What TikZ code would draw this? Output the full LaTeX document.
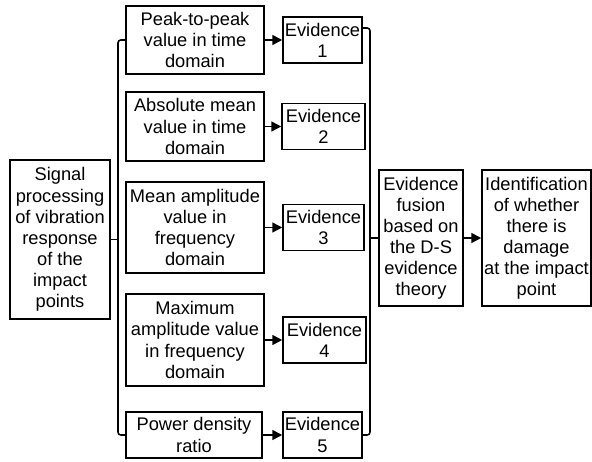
\documentclass[tikz,border=0pt]{standalone}
\usepackage{fontspec}
\setmainfont{Liberation Sans}
\usepackage{tikz}
\usetikzlibrary{arrows.meta,positioning,calc}

\begin{document}
\begin{tikzpicture}[
    box/.style={rectangle, draw, line width=1.1pt, align=center, inner sep=1pt, font=\fontsize{13}{15}\selectfont},
    line/.style={line width=1.1pt},
    arrow/.style={-{Triangle[length=7pt,width=7pt]}, line width=1.1pt}
]
\useasboundingbox (0,0) rectangle (14.8,-11.55);

% Input
\node[box, minimum width=2.5cm, minimum height=3.975cm] (sig) at (1.5,-5.9875) {Signal\\processing\\of vibration\\response\\of the\\impact\\points};

% Features
\node[box, minimum width=3.45cm, minimum height=1.7cm] (f1) at (4.875,-1.0) {Peak-to-peak\\value in time\\domain};
\node[box, minimum width=3.45cm, minimum height=1.725cm] (f2) at (4.875,-3.1625) {Absolute mean\\value in time\\domain};
\node[box, minimum width=3.45cm, minimum height=2.275cm] (f3) at (4.875,-5.6875) {Mean amplitude\\value in\\frequency\\domain};
\node[box, minimum width=3.45cm, minimum height=2.3cm] (f4) at (4.875,-8.5) {Maximum\\amplitude value\\in frequency\\domain};
\node[box, minimum width=3.4cm, minimum height=1.15cm] (f5) at (4.85,-10.875) {Power density\\ratio};

% Evidences
\node[box, minimum width=1.975cm, minimum height=1.15cm] (e1) at (8.0625,-1.0) {Evidence\\1};
\node[box, minimum width=2.075cm, minimum height=1.15cm] (e2) at (8.0875,-3.1625) {Evidence\\2};
\node[box, minimum width=2.025cm, minimum height=1.15cm] (e3) at (8.0875,-5.6875) {Evidence\\3};
\node[box, minimum width=2.075cm, minimum height=1.15cm] (e4) at (8.1125,-8.5) {Evidence\\4};
\node[box, minimum width=1.975cm, minimum height=1.15cm] (e5) at (8.0625,-10.875) {Evidence\\5};

% Fusion and result
\node[box, minimum width=2.1cm, minimum height=3.4cm] (fus) at (10.525,-5.95) {Evidence\\fusion\\based on\\the D-S\\evidence\\theory};
\node[box, minimum width=2.725cm, minimum height=3.4cm] (ide) at (13.4125,-5.95) {Identification\\of whether\\there is\\damage\\at the impact\\point};

% Brackets
\coordinate (lbr) at (2.95,0);
\coordinate (rbr) at (9.25,0);
\draw[line, rounded corners=2pt] (f1.west) -| (lbr |- f5.west) -- (f5.west);
\draw[line] (sig.east) -- (sig.east -| lbr);
\draw[line, rounded corners=2pt] ([yshift=0.3cm]e1.east) -| (rbr |- e5.east) -- (e5.east);
\draw[line] (fus.west) -- (fus.west -| rbr);

% Arrows
\foreach \i in {1,...,5}
    \draw[arrow] (f\i) -- (e\i);
\draw[arrow] (fus) -- (ide);

\end{tikzpicture}
\end{document}
